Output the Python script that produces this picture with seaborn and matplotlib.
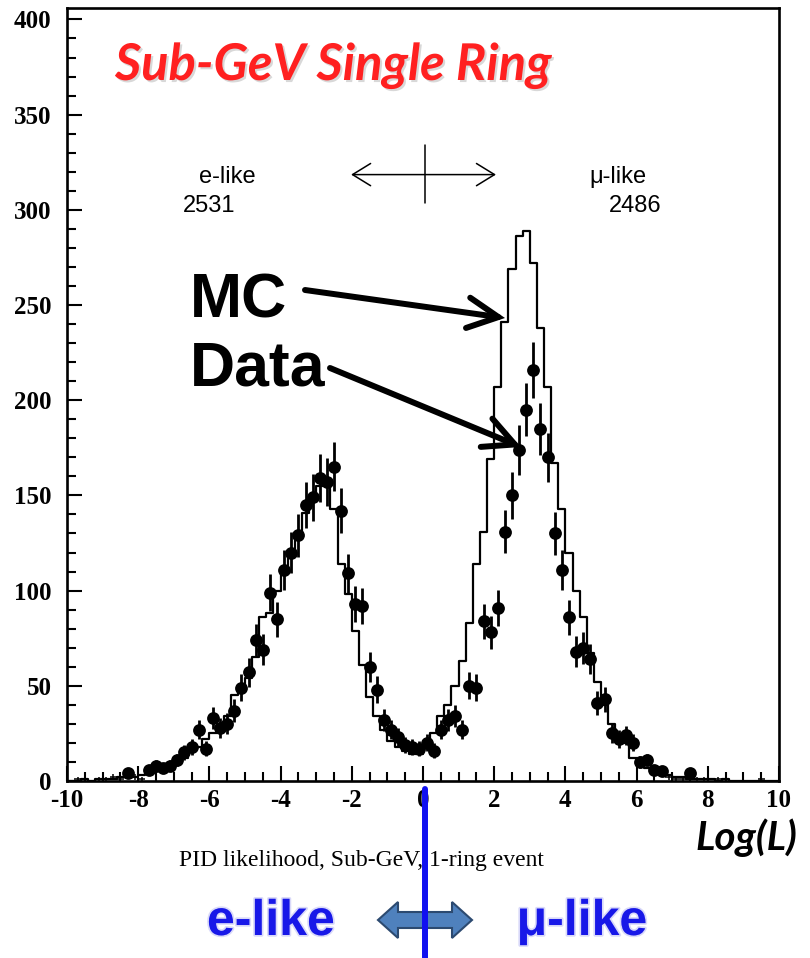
import numpy as np
import pandas as pd
import matplotlib
matplotlib.use("Agg")
import matplotlib.pyplot as plt
import seaborn as sns
from matplotlib.lines import Line2D
from matplotlib.patches import Polygon, FancyArrowPatch
from matplotlib import patheffects as pe
from matplotlib.ticker import FixedLocator, MultipleLocator

# PID log-likelihood histogram: 100 bins of width 0.2 between -10 and 10
bin_edges = np.linspace(-10.0, 10.0, 101)
bin_centers = 0.5 * (bin_edges[:-1] + bin_edges[1:])

# Monte Carlo expectation per bin (left to right)
mc_counts = [
    0, 0, 1, 0, 1, 1, 1, 2, 2, 2,
    3, 4, 5, 6, 8, 10, 12, 15, 18, 22,
    25, 29, 34, 45, 50, 54, 65, 86, 88, 100,
    109, 121, 128, 141, 148, 155, 158, 143, 114, 98,
    79, 61, 44, 34, 27, 21, 18, 16, 14, 14,
    18, 25, 34, 40, 50, 63, 83, 114, 131, 169,
    207, 241, 269, 286, 289, 272, 238, 207, 167, 143,
    120, 100, 86, 67, 52, 40, 30, 24, 20, 12,
    9, 7, 5, 4, 3, 2, 2, 1, 1, 1,
    1, 0, 1, 0, 0, 0, 0, 0, 0, 0,
]

# Observed events per bin (left to right)
data_counts = [
    0, 1, 0, 0, 1, 1, 2, 1, 4, 2,
    1, 6, 8, 7, 8, 11, 15, 18, 27, 17,
    33, 28, 30, 37, 49, 57, 74, 69, 99, 85,
    111, 120, 129, 145, 149, 159, 157, 165, 142, 109,
    93, 92, 60, 48, 32, 27, 23, 19, 18, 17,
    20, 16, 27, 32, 34, 27, 50, 49, 84, 78,
    91, 131, 150, 174, 195, 216, 185, 170, 130, 111,
    86, 68, 70, 64, 41, 43, 25, 22, 24, 20,
    10, 11, 6, 5, 2, 1, 1, 4, 1, 1,
    0, 1, 0, 0, 0, 0, 0, 1, 0, 0,
]

x_ticks = [-10, -8, -6, -4, -2, 0, 2, 4, 6, 8, 10]
y_ticks = [0, 50, 100, 150, 200, 250, 300, 350, 400]

hist_df = pd.DataFrame({"logL": bin_centers, "mc": mc_counts, "data": data_counts})

sns.set_style("ticks")
plt.rcParams["font.family"] = ["Liberation Serif", "DejaVu Serif"]
plt.rcParams["axes.unicode_minus"] = False

W, H = 810, 958
fig = plt.figure(figsize=(W / 100, H / 100), dpi=100)


def fx(px):
    return px / W


def fy(py):
    return 1 - py / H


ax = fig.add_axes([fx(67), fy(781), 712 / W, 773 / H])

# MC as an outlined step histogram
sns.histplot(data=hist_df, x="logL", weights="mc", bins=list(bin_edges), element="step",
             fill=False, color="black", linewidth=1.6, ax=ax, zorder=2)

# data points with Poisson error bars
data = hist_df["data"].to_numpy(dtype=float)
big = data >= 3
small = (data > 0) & (data < 3)
ax.errorbar(bin_centers[big], data[big], yerr=np.sqrt(data[big]), fmt="none",
            ecolor="black", elinewidth=2.0, capsize=0, zorder=3)
sns.scatterplot(x=bin_centers[big], y=data[big], color="black", s=85,
                linewidth=0, ax=ax, zorder=4, legend=False)
ax.errorbar(bin_centers[small], data[small], yerr=np.sqrt(data[small]), xerr=0.1,
            fmt="none", ecolor="black", elinewidth=1.1, capsize=0, zorder=3)

ax.set_xlim(-10, 10)
ax.set_ylim(0, 406)
ax.set_xlabel("")
ax.set_ylabel("")
ax.xaxis.set_major_locator(FixedLocator(x_ticks))
ax.xaxis.set_minor_locator(MultipleLocator(0.5))
ax.yaxis.set_major_locator(FixedLocator(y_ticks))
ax.yaxis.set_minor_locator(MultipleLocator(10))
ax.set_xticklabels([str(t) for t in x_ticks], fontweight="bold", fontsize=18)
ax.set_yticklabels([str(t) for t in y_ticks], fontweight="bold", fontsize=18)
ax.tick_params(which="both", direction="in", width=1.5, colors="black",
               top=False, right=False)
ax.tick_params(which="major", length=11)
ax.tick_params(which="minor", length=6.5)
ax.tick_params(axis="x", pad=6)
ax.tick_params(axis="y", pad=11)
for sp in ax.spines.values():
    sp.set_visible(True)
    sp.set_linewidth(1.9)
    sp.set_color("black")

# title inside the frame
fig.text(fx(115), fy(80), "Sub-GeV Single Ring", family=["Lato", "DejaVu Sans"],
         fontsize=36.5, fontweight="bold", fontstyle="italic", color="#FF2020",
         va="baseline", ha="left",
         path_effects=[pe.withSimplePatchShadow(offset=(1.5, -1.5),
                                                shadow_rgbFace="#808080", alpha=0.3)])

# cut labels and event counts
small_font = dict(family=["Liberation Sans", "DejaVu Sans"], fontsize=17,
                  color="black", va="baseline", ha="left")
ax.text(-6.29, 314, "e-like", **small_font)
ax.text(-6.74, 299, "2531", **small_font)
ax.text(4.66, 314, "\u03bc-like", **small_font)
ax.text(5.22, 299, "2486", **small_font)

# cut marker at zero
ax.add_patch(FancyArrowPatch((-2.02, 318.5), (2.05, 318.5),
                             arrowstyle="<->,head_length=0.65,head_width=0.4",
                             mutation_scale=20, lw=1.1, color="black",
                             shrinkA=0, shrinkB=0, zorder=5))
ax.plot([0.05, 0.05], [303.5, 334], color="black", lw=1.1, zorder=5)

# MC / Data callouts
big_font = dict(family=["Liberation Sans", "DejaVu Sans"], fontsize=45,
                fontweight="bold", color="black", va="baseline", ha="left")
fig.text(fx(190), fy(318), "MC", **big_font)
fig.text(fx(190), fy(386), "Data", **big_font)
for tail, tip in [((305, 290), (505, 318)), ((330, 368), (521, 447))]:
    fig.add_artist(FancyArrowPatch((fx(tail[0]), fy(tail[1])), (fx(tip[0]), fy(tip[1])),
                                   transform=fig.transFigure,
                                   arrowstyle="->,head_length=1.1,head_width=0.55",
                                   mutation_scale=20, lw=4.3, color="black",
                                   shrinkA=0, shrinkB=0, capstyle="round",
                                   joinstyle="miter"))

# axis captions
fig.text(fx(695), fy(850), "Log(L)", family=["Lato", "DejaVu Sans"], fontsize=29,
         fontweight="bold", fontstyle="italic", color="black", va="baseline", ha="left")
fig.text(fx(361), fy(866), "PID likelihood, Sub-GeV, 1-ring event",
         family=["Liberation Serif", "DejaVu Serif"], fontsize=17, color="black",
         va="baseline", ha="center")

# e-like / mu-like legend below the axis
blue = "#1818E8"
glow = [pe.Stroke(linewidth=2.5, foreground="#B4B4F4", alpha=0.5), pe.Normal()]
fig.text(fx(271), fy(935), "e-like", family=["Liberation Sans", "DejaVu Sans"],
         fontsize=36, fontweight="bold", color=blue, va="baseline", ha="center",
         path_effects=glow)
fig.text(fx(582), fy(935), "\u03bc-like", family=["Liberation Sans", "DejaVu Sans"],
         fontsize=36, fontweight="bold", color=blue, va="baseline", ha="center",
         path_effects=glow)

arrow_px = [(378, 920), (398, 902), (398, 912), (452, 912), (452, 902), (472, 920),
            (452, 938), (452, 928), (398, 928), (398, 938)]
fig.add_artist(Polygon([(fx(x), fy(y)) for x, y in arrow_px], closed=True,
                       transform=fig.transFigure, facecolor="#4F81BD",
                       edgecolor="#2C4A70", lw=1.5, zorder=6))

fig.add_artist(Line2D([fx(425), fx(425)], [0, fy(789)], transform=fig.transFigure,
                      color="#1010F0", lw=4.3, zorder=10))

fig.savefig("out.png", dpi=100)
